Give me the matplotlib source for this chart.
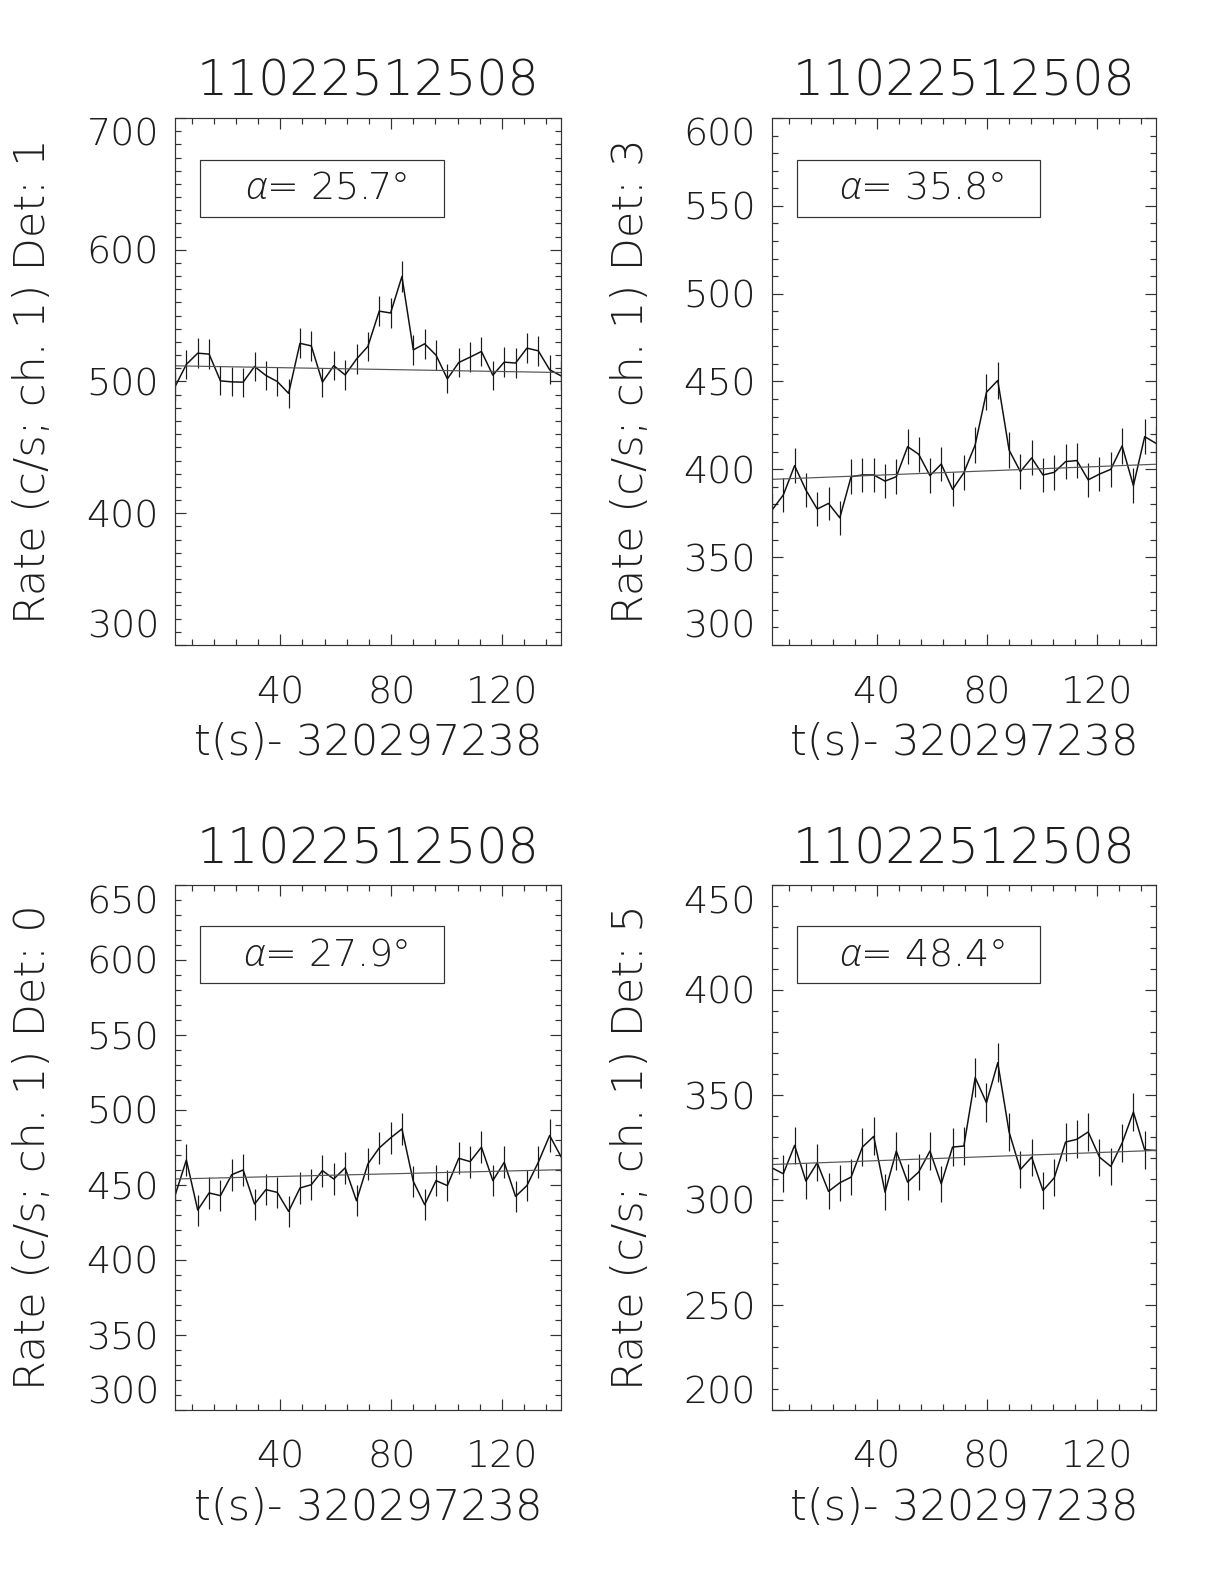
import matplotlib
matplotlib.use("Agg")
import matplotlib.pyplot as plt
from matplotlib import font_manager as fm
from matplotlib.ticker import MultipleLocator, FixedLocator
from matplotlib.patches import Rectangle

# ---------------- data ----------------
time_s = [2.0, 6.1, 10.2, 14.3, 18.4, 22.5, 26.6, 30.7, 34.8, 38.9,
          43.0, 47.1, 51.2, 55.2, 59.3, 63.4, 67.5, 71.6, 75.7, 79.8,
          83.9, 88.0, 92.1, 96.2, 100.3, 104.4, 108.5, 112.6, 116.7, 120.8,
          124.9, 129.0, 133.1, 137.2, 141.3]

title_id = "11022512508"
x_label = "t(s)- 320297238"
x_ticks = [40, 80, 120]

det_names = ["1", "3", "0", "5"]
alpha_deg = ["25.7", "35.8", "27.9", "48.4"]

rate_det1 = [496.0, 513.0, 521.5, 520.8, 500.5, 499.7, 499.5, 511.4, 504.6, 500.0,
             491.0, 529.0, 527.0, 499.5, 512.0, 505.0, 517.0, 526.6, 553.4, 552.0,
             579.7, 524.0, 528.6, 520.0, 502.0, 514.4, 518.5, 522.8, 504.8, 514.7,
             514.0, 525.3, 523.3, 508.9, 504.3]
err_det1 = [11.0, 11.2, 11.3, 11.3, 11.1, 11.0, 11.0, 11.2, 11.1, 11.0,
            10.9, 11.4, 11.3, 11.0, 11.2, 11.1, 11.2, 11.3, 11.6, 11.6,
            11.9, 11.3, 11.4, 11.3, 11.1, 11.2, 11.3, 11.3, 11.1, 11.2,
            11.2, 11.3, 11.3, 11.1, 11.1]
fit_det1 = [511.9, 506.8]

rate_det3 = [376.8, 385.4, 402.1, 388.2, 377.4, 380.6, 372.4, 395.8, 396.8, 396.8,
             393.3, 395.8, 412.9, 408.6, 396.4, 403.0, 388.6, 398.1, 413.9, 443.9,
             450.6, 411.0, 398.7, 406.5, 396.8, 398.3, 404.4, 405.0, 394.0, 397.3,
             400.0, 413.3, 390.7, 418.6, 414.8]
err_det3 = [9.6, 9.7, 9.9, 9.7, 9.6, 9.6, 9.5, 9.8, 9.8, 9.8,
            9.8, 9.8, 10.0, 10.0, 9.8, 9.9, 9.7, 9.9, 10.1, 10.4,
            10.5, 10.0, 9.9, 10.0, 9.8, 9.9, 9.9, 9.9, 9.8, 9.8,
            9.9, 10.0, 9.8, 10.1, 10.1]
fit_det3 = [394.3, 402.9]

rate_det0 = [442.9, 466.7, 433.3, 444.7, 442.9, 456.9, 460.0, 437.3, 446.9, 445.1,
             432.4, 448.0, 450.2, 459.6, 454.0, 461.4, 439.5, 464.0, 474.7, 481.4,
             487.4, 452.4, 436.9, 452.9, 449.6, 467.8, 465.6, 475.2, 452.9, 465.1,
             442.4, 449.6, 465.1, 483.0, 468.9]
err_det0 = [10.4, 10.7, 10.3, 10.4, 10.4, 10.6, 10.6, 10.3, 10.4, 10.4,
            10.3, 10.5, 10.5, 10.6, 10.5, 10.6, 10.4, 10.6, 10.8, 10.8,
            10.9, 10.5, 10.3, 10.5, 10.5, 10.7, 10.7, 10.8, 10.5, 10.7,
            10.4, 10.5, 10.7, 10.9, 10.7]
fit_det0 = [454.0, 460.2]

rate_det5 = [315.3, 312.5, 326.0, 309.0, 317.7, 304.1, 308.2, 310.9, 325.2, 330.3,
             303.7, 323.3, 308.5, 313.3, 323.3, 307.7, 325.2, 325.7, 358.3, 346.3,
             365.4, 332.4, 314.5, 320.4, 304.5, 310.6, 327.6, 328.9, 332.4, 320.4,
             316.0, 327.1, 341.9, 323.9, 323.6]
err_det5 = [8.8, 8.7, 8.9, 8.7, 8.8, 8.6, 8.7, 8.7, 8.9, 9.0,
            8.6, 8.9, 8.7, 8.7, 8.9, 8.7, 8.9, 8.9, 9.4, 9.2,
            9.4, 9.0, 8.8, 8.8, 8.6, 8.7, 8.9, 9.0, 9.0, 8.8,
            8.8, 8.9, 9.1, 8.9, 8.9]
fit_det5 = [316.9, 323.6]

y_limits = [(300, 700), (300, 600), (300, 650), (200, 450)]
y_ticks = [[300, 400, 500, 600, 700],
           [300, 350, 400, 450, 500, 550, 600],
           [300, 350, 400, 450, 500, 550, 600, 650],
           [200, 250, 300, 350, 400, 450]]

rates = [rate_det1, rate_det3, rate_det0, rate_det5]
errs = [err_det1, err_det3, err_det0, err_det5]
fits = [fit_det1, fit_det3, fit_det0, fit_det5]


# ---------------- font: thin stroke look ----------------
def _w(f):
    w = f.weight
    if isinstance(w, str):
        w = fm.weight_dict.get(w, 400)
    return w


fam, wt = "DejaVu Sans", "normal"
for cand in ["DejaVu Sans", "Open Sans", "Roboto", "Lato", "Inter", "Noto Sans"]:
    light = [_w(f) for f in fm.fontManager.ttflist
             if f.name == cand and f.style == "normal" and _w(f) <= 300]
    if light:
        fam, wt = cand, min(light)
        break

ifam, iwt = fam, wt
for cand in ["Open Sans", "Roboto", "Lato", "Noto Sans", "Inter", "DejaVu Sans"]:
    light = [_w(f) for f in fm.fontManager.ttflist
             if f.name == cand and f.style == "italic" and _w(f) <= 300]
    if light:
        ifam, iwt = cand, min(light)
        break

plt.rcParams["font.family"] = [fam, "DejaVu Sans"]
plt.rcParams["font.weight"] = wt
plt.rcParams["axes.titleweight"] = wt
plt.rcParams["axes.labelweight"] = wt
plt.rcParams["mathtext.fontset"] = "custom"
plt.rcParams["mathtext.it"] = f"{ifam}:italic:weight={iwt}"
plt.rcParams["mathtext.rm"] = f"{fam}:weight={wt}"

TXT = "#1e1e1e"
TICK = 19
LAB = 21.5
TTL = 24.5

fig = plt.figure(figsize=(8.5, 11), dpi=144)
W, H = 1224, 1584
boxes = [(175, 118, 386, 527), (772, 118, 384, 527),
         (175, 885, 386, 525), (772, 885, 384, 525)]

for i, (px, py, pw, ph) in enumerate(boxes):
    ax = fig.add_axes([px / W, 1 - (py + ph) / H, pw / W, ph / H])
    ax.errorbar(time_s, rates[i], yerr=errs[i], fmt="none", ecolor="#1a1a1a",
                elinewidth=0.6, capsize=0)
    ax.plot(time_s, rates[i], color="#111111", lw=0.75)
    ax.plot([time_s[0], time_s[-1]], fits[i], color="#555555", lw=0.6)
    ax.set_xlim(time_s[0], time_s[-1])
    ax.set_ylim(*y_limits[i])
    ax.xaxis.set_major_locator(FixedLocator(x_ticks))
    ax.xaxis.set_minor_locator(MultipleLocator(8))
    ax.set_yticks(y_ticks[i])
    ax.set_yticklabels([str(v) for v in y_ticks[i]])
    ax.yaxis.set_minor_locator(MultipleLocator(10))
    ax.tick_params(which="both", direction="in", top=True, right=True,
                   color="#333333", width=0.6)
    ax.tick_params(which="major", length=5.5)
    ax.tick_params(which="minor", length=2.8)
    ax.tick_params(axis="x", which="major", pad=15, labelsize=TICK, labelcolor=TXT)
    ax.tick_params(axis="y", which="major", pad=8, labelsize=TICK, labelcolor=TXT)
    ylabs = ax.get_yticklabels()
    ylabs[0].set_verticalalignment("bottom")
    ylabs[-1].set_verticalalignment("top")
    for s in ax.spines.values():
        s.set_linewidth(0.6)
        s.set_color("#333333")
    ax.set_title(title_id, fontsize=TTL, color=TXT, pad=11)
    ax.set_xlabel(x_label, fontsize=LAB, color=TXT)
    ax.xaxis.set_label_coords(0.5, -0.146)
    ax.set_ylabel(f"Rate (c/s; ch. 1) Det: {det_names[i]}", fontsize=LAB, color=TXT)
    ax.yaxis.set_label_coords(-0.315, 0.5)
    ax.add_patch(Rectangle((0.065, 0.813), 0.632, 0.108, transform=ax.transAxes,
                           fill=False, lw=0.6, edgecolor="#333333"))
    ax.text(0.39, 0.867, f"$\\alpha$= {alpha_deg[i]}°", transform=ax.transAxes,
            ha="center", va="center", fontsize=TICK, color=TXT)

fig.savefig("out.png", dpi=144, facecolor="white")
